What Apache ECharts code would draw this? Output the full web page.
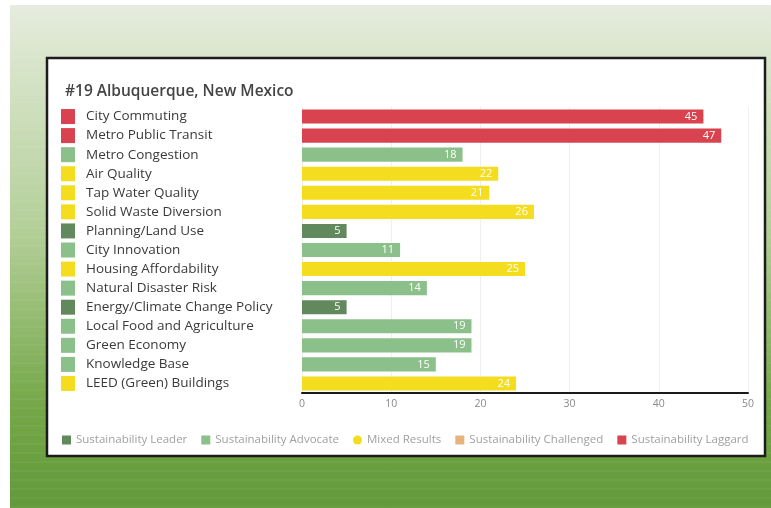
<!DOCTYPE html>
<html>
<head>
<meta charset="utf-8">
<style>
  html, body { margin: 0; padding: 0; background: #ffffff; }
  #chart { width: 771px; height: 508px; }
</style>
<script src="https://cdn.jsdelivr.net/npm/echarts@6/dist/echarts.min.js"></script>
</head>
<body>
<div id="chart"></div>
<script>
// Indicator names, top to bottom
const categories = [
  'City Commuting',
  'Metro Public Transit',
  'Metro Congestion',
  'Air Quality',
  'Tap Water Quality',
  'Solid Waste Diversion',
  'Planning/Land Use',
  'City Innovation',
  'Housing Affordability',
  'Natural Disaster Risk',
  'Energy/Climate Change Policy',
  'Local Food and Agriculture',
  'Green Economy',
  'Knowledge Base',
  'LEED (Green) Buildings'
];

// Rank for each indicator
const values = [45, 47, 18, 22, 21, 26, 5, 11, 25, 14, 5, 19, 19, 15, 24];

// Rating group of each indicator (index into ratingNames)
const ratings = [4, 4, 1, 2, 2, 2, 0, 1, 2, 1, 0, 1, 1, 1, 2];

const ratingNames = [
  'Sustainability Leader',
  'Sustainability Advocate',
  'Mixed Results',
  'Sustainability Challenged',
  'Sustainability Laggard'
];

const xTicks = [0, 10, 20, 30, 40, 50];

const ratingColors = ['#62895d', '#8cc08a', '#f4dc1e', '#e8b27a', '#d9434f'];
const richKeys = ['d', 'g', 'y', 'o', 'r'];

const chart = echarts.init(document.getElementById('chart'), null, { renderer: 'canvas' });

const rich = { t: { fontSize: 13.5, color: '#3a3a3a', fontFamily: 'Open Sans', padding: [0, 0, 0, 11] } };
richKeys.forEach((k, i) => {
  rich[k] = { width: 14, height: 15, backgroundColor: ratingColors[i] };
});

const series = ratingNames.map((name, r) => ({
  name: name,
  type: 'bar',
  stack: 'rank',
  barCategoryGap: '26%',
  itemStyle: { color: ratingColors[r] },
  label: {
    show: true,
    position: 'insideRight',
    color: '#ffffff',
    fontSize: 11,
    fontFamily: 'Open Sans',
    distance: 6
  },
  data: values.map((v, i) => (ratings[i] === r ? v : '-'))
}));

// Faint horizontal banding on the green backdrop
const stripes = [];
for (let y = 12; y < 508; y += 9) {
  stripes.push({
    type: 'line',
    z: -9.5,
    shape: { x1: 10, y1: y, x2: 771, y2: y },
    style: { stroke: 'rgba(255,255,255,0.09)', lineWidth: 1 }
  });
}

const option = {
  animation: false,
  backgroundColor: '#ffffff',
  graphic: [
    {
      type: 'rect',
      z: -10,
      shape: { x: 10, y: 5, width: 761, height: 503 },
      style: {
        fill: new echarts.graphic.LinearGradient(0, 0, 0, 1, [
          { offset: 0, color: '#e6ecdf' },
          { offset: 0.12, color: '#d7e4c9' },
          { offset: 0.45, color: '#b3cf98' },
          { offset: 0.8, color: '#74a748' },
          { offset: 1, color: '#62993a' }
        ])
      }
    },
    ...stripes,
    {
      type: 'rect',
      z: -9,
      shape: { x: 47, y: 58, width: 718, height: 398 },
      style: { fill: '#ffffff', stroke: '#1c1c1c', lineWidth: 2.5 }
    }
  ],
  title: {
    text: '#19 Albuquerque, New Mexico',
    left: 60,
    top: 79,
    textStyle: { fontFamily: 'Open Sans', fontWeight: 600, fontSize: 15.5, color: '#444444' }
  },
  legend: {
    left: 57,
    top: 429,
    itemWidth: 9,
    itemHeight: 9,
    itemGap: 14,
    textStyle: { fontSize: 11.5, color: '#a0a0a0', fontFamily: 'Open Sans' },
    data: ratingNames.map((n, i) => ({ name: n, icon: i === 2 ? 'circle' : 'rect' }))
  },
  grid: { left: 302, right: 23, top: 107, height: 286 },
  xAxis: {
    type: 'value',
    min: 0,
    max: 50,
    interval: 10,
    axisLine: { show: true, lineStyle: { color: '#1a1a1a', width: 2 } },
    axisTick: { show: false },
    splitLine: { show: true, lineStyle: { color: '#efefef', width: 1 } },
    axisLabel: {
      color: '#8a8a8a',
      fontSize: 10.5,
      fontFamily: 'Open Sans',
      margin: 6,
      formatter: v => (xTicks.indexOf(v) >= 0 ? String(v) : '')
    }
  },
  yAxis: {
    type: 'category',
    inverse: true,
    data: categories,
    axisLine: { show: false },
    axisTick: { show: false },
    axisLabel: {
      align: 'left',
      margin: 241,
      formatter: (name, idx) => '{' + richKeys[ratings[idx]] + '|}{t|' + name + '}',
      rich: rich
    }
  },
  series: series
};

chart.setOption(option);
</script>
</body>
</html>
